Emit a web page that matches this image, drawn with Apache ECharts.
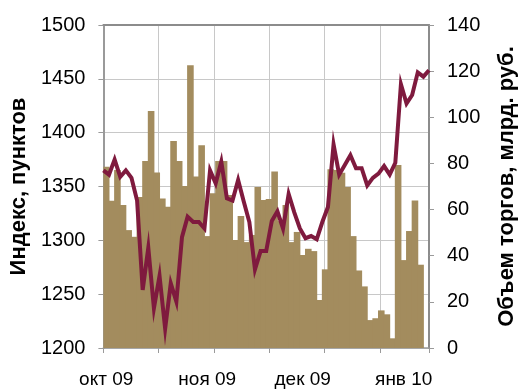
<!DOCTYPE html>
<html>
<head>
<meta charset="utf-8">
<script src="https://cdn.jsdelivr.net/npm/echarts@6/dist/echarts.min.js"></script>
<style>
  html, body { margin: 0; padding: 0; background: #fff; }
  #chart { width: 526px; height: 389px; }
</style>
</head>
<body>
<div id="chart"></div>
<script>
// Daily trading volume, bln rub (one slot per trading day; last slot has no volume yet)
const volume = [
  78.6, 63.8, 77.2, 62.0, 51.1, 48.2, 65.5, 81.1, 102.7, 76.1,
  64.8, 61.2, 89.7, 81.1, 70.2, 122.6, 74.3, 87.9, 48.5, 67.1,
  81.1, 81.1, 66.3, 46.8, 57.2, 45.9, 49.0, 69.8, 64.2, 64.6,
  76.5, 55.0, 62.0, 45.9, 50.3, 40.3, 43.0, 42.0, 20.8, 34.1,
  77.5, 77.2, 76.0, 69.8, 48.5, 33.6, 26.7, 12.1, 12.9, 16.3,
  14.6, 4.2, 79.3, 38.1, 50.7, 63.9, 36.1, null
];

// Index close, points
const indexValues = [
  1365, 1361, 1375, 1359, 1365, 1358, 1337, 1254, 1293, 1237,
  1267, 1218, 1260, 1243, 1303, 1322, 1317, 1317, 1311, 1365,
  1353, 1373, 1339, 1337, 1356, 1336, 1317, 1273, 1290, 1290,
  1318, 1327, 1311, 1343, 1326, 1311, 1302, 1304, 1301, 1317,
  1331, 1389, 1361, 1370, 1379, 1367, 1367, 1351, 1358, 1362,
  1369, 1361, 1372, 1445, 1427, 1435, 1456, 1452, 1458
];

// Month captions and the trading-day slot each one is centred on
const monthLabels = ['окт 09', 'ноя 09', 'дек 09', 'янв 10'];
const monthSlots = [0, 18, 35, 53];

const leftTicks = { min: 1200, max: 1500, step: 50 };
const rightTicks = { min: 0, max: 140, step: 20 };

const FONT = "'Liberation Sans', Arial, sans-serif";
const AXIS_GRAY = '#9a9a9a';
const GRID_GRAY = '#c8c8c8';
const BAR_COLOR = '#a38c5e';

const barSlots = volume.map((_, i) => i);
const lineSlots = indexValues.map((_, i) => i);

const chart = echarts.init(document.getElementById('chart'), null, { renderer: 'canvas' });

chart.setOption({
  animation: false,
  backgroundColor: '#ffffff',
  grid: { left: 102, right: 81, top: 25, bottom: 41, containLabel: false },
  xAxis: [
    {
      // trading-day slots for the volume bars, carrying the month captions
      type: 'category',
      data: barSlots,
      position: 'bottom',
      boundaryGap: true,
      axisLine: { show: false },
      axisTick: { show: false },
      splitLine: { show: false },
      axisLabel: {
        interval: (i) => monthSlots.indexOf(i) >= 0,
        formatter: (v, i) => monthLabels[monthSlots.indexOf(i)] || '',
        fontFamily: FONT,
        fontSize: 19,
        color: '#000',
        margin: 22
      }
    },
    {
      // index points run edge to edge; this axis also draws the top frame
      type: 'category',
      data: lineSlots,
      position: 'top',
      boundaryGap: false,
      axisLine: { show: true, lineStyle: { color: '#8c8c8c', width: 2 } },
      axisTick: { show: false },
      axisLabel: { show: false },
      splitLine: { show: false }
    },
    {
      // vertical grid lines and bottom tick marks
      type: 'value',
      position: 'bottom',
      min: 0,
      max: 5.887,
      interval: 1,
      axisLine: { show: true, lineStyle: { color: AXIS_GRAY, width: 1.5 } },
      axisTick: { show: true, length: 5, lineStyle: { color: AXIS_GRAY } },
      axisLabel: { show: false },
      splitLine: { show: true, lineStyle: { color: GRID_GRAY, width: 1 } }
    }
  ],
  yAxis: [
    {
      type: 'value',
      position: 'left',
      min: leftTicks.min,
      max: leftTicks.max,
      interval: leftTicks.step,
      name: 'Индекс, пунктов',
      nameLocation: 'middle',
      nameRotate: 90,
      nameGap: 63,
      nameTextStyle: { fontFamily: FONT, fontSize: 22, fontWeight: 'bold', color: '#000' },
      axisLine: { show: true, lineStyle: { color: AXIS_GRAY, width: 2 } },
      axisTick: { show: true, length: 5, lineStyle: { color: AXIS_GRAY } },
      axisLabel: { fontFamily: FONT, fontSize: 20, color: '#000', margin: 18, formatter: (v) => String(v) },
      splitLine: { show: true, lineStyle: { color: GRID_GRAY, width: 1 } }
    },
    {
      type: 'value',
      position: 'right',
      min: rightTicks.min,
      max: rightTicks.max,
      interval: rightTicks.step,
      name: 'Объем торгов, млрд. руб.',
      nameLocation: 'middle',
      nameRotate: 90,
      nameGap: 67,
      nameTextStyle: { fontFamily: FONT, fontSize: 22, fontWeight: 'bold', color: '#000' },
      axisLine: { show: true, lineStyle: { color: '#8c8c8c', width: 2 } },
      axisTick: { show: true, length: 5, lineStyle: { color: AXIS_GRAY } },
      axisLabel: { fontFamily: FONT, fontSize: 20, color: '#000', margin: 18, formatter: (v) => String(v) },
      splitLine: { show: false }
    }
  ],
  series: [
    {
      name: 'Объем торгов',
      type: 'bar',
      xAxisIndex: 0,
      yAxisIndex: 1,
      data: volume,
      barWidth: 6.6,
      itemStyle: { color: BAR_COLOR },
      z: 2
    },
    {
      name: 'Индекс',
      type: 'line',
      xAxisIndex: 1,
      yAxisIndex: 0,
      data: indexValues,
      showSymbol: false,
      symbol: 'none',
      lineStyle: { color: '#7f1a3e', width: 4, join: 'miter' },
      z: 3
    }
  ]
});
</script>
</body>
</html>
